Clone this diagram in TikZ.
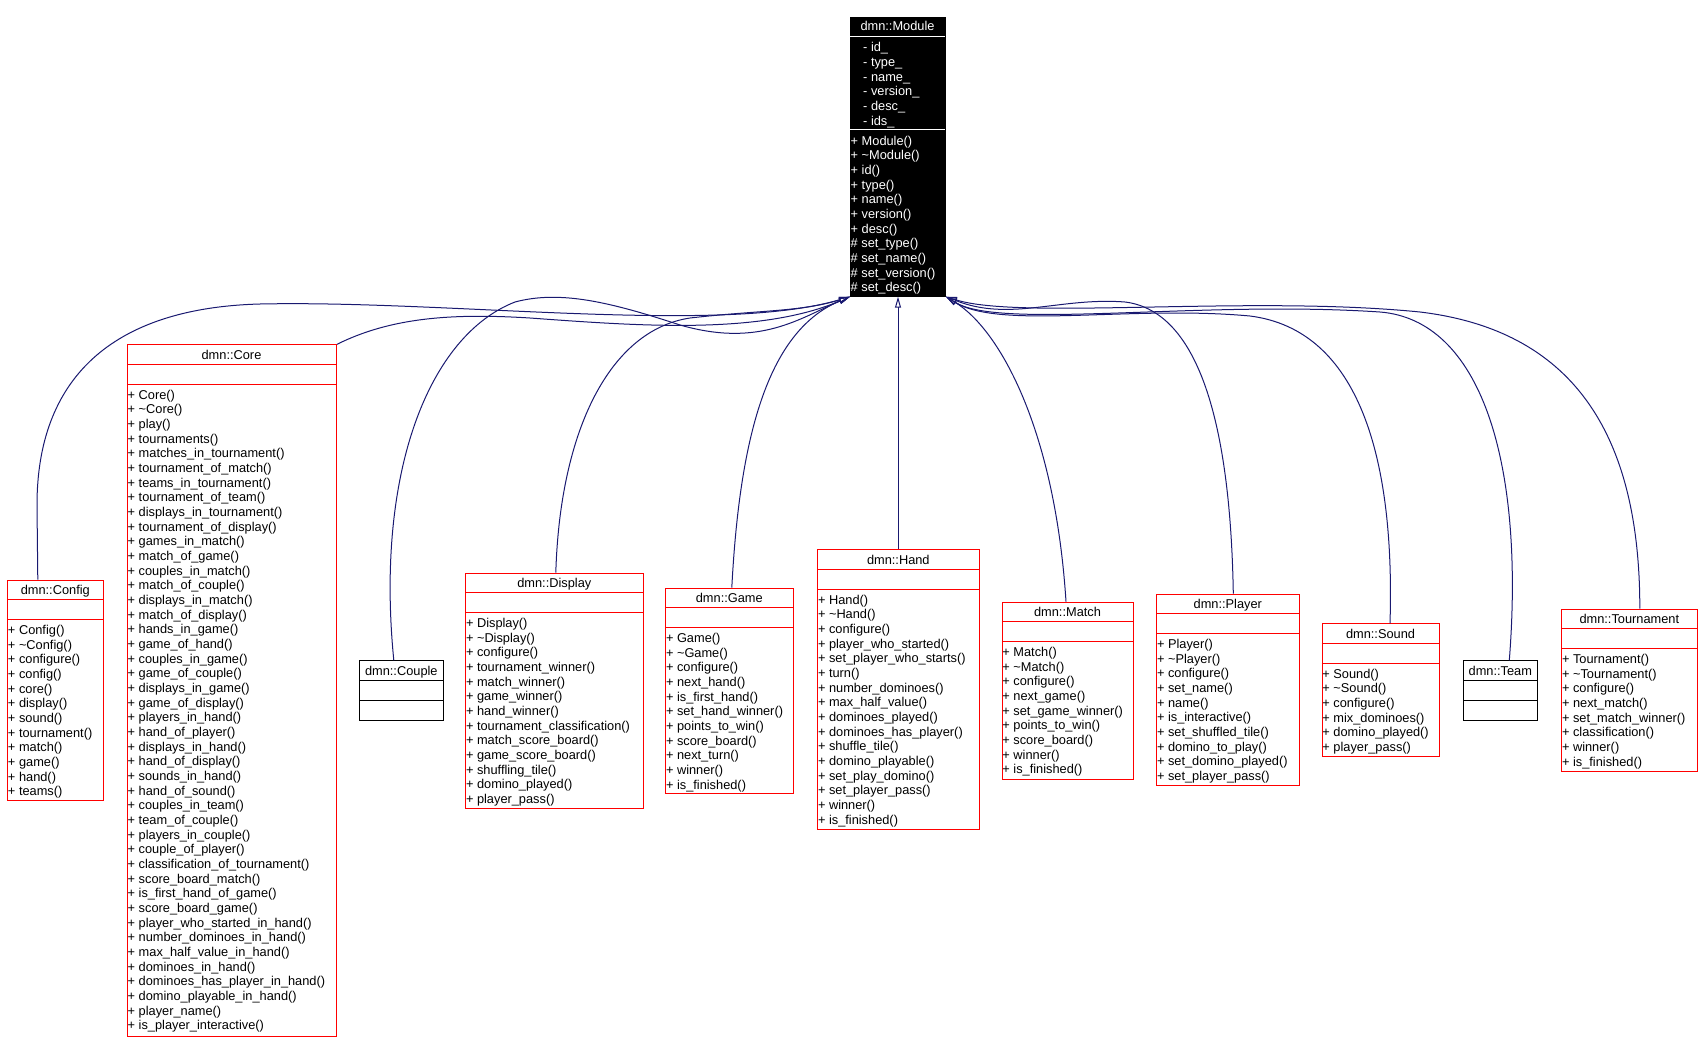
\documentclass[tikz,border=0pt]{standalone}
\usepackage{fontspec}
\setmainfont{Liberation Sans}
\usetikzlibrary{arrows.meta,calc}
\definecolor{edgeblue}{HTML}{191970}

\tikzset{
  classbox/.style={draw=red,line width=1pt,inner sep=0pt,anchor=north west},
  member/.style={anchor=base west,inner sep=0pt,font=\fontsize{12.8}{14.67}\selectfont},
  classname/.style={anchor=base,inner sep=0pt,font=\fontsize{12.8}{14.67}\selectfont},
  inherit/.style={edgeblue,line width=1pt,-{Triangle[open,length=11pt,width=6pt]}},
}

% box with title and two compartments: [colour]{name}{left}{top}{right}{bottom}{title}
\newcommand{\umlclass}[7][red]{%
  \node[classbox,draw=#1,minimum width={#5-#3},minimum height={#6-#4}] (#2) at (#3,#4) {};
  \draw[#1,line width=1pt] (#3,#4+20) -- (#5,#4+20) (#3,#4+40) -- (#5,#4+40);
  \node[classname] (#2-name) at ({(#3+#5)/2},#4+15) {#7};
}
% one line per member: [style]{prefix}{x}{first baseline}{skip}{lines}
\newcommand{\members}[6][]{%
  \foreach \m [count=\i from 0] in {#6}
    \node[member,#1] (#2-\i) at (#3,{#4+\i*#5}) {\m};
}

\begin{document}
\begin{tikzpicture}[x=1pt,y=-1pt]
  \useasboundingbox (0,0) rectangle (1702,1052);

  % base class
  \node[classbox,draw=black,fill=black,minimum width=95,minimum height=278.4] (module) at (850,17.3) {};
  \draw[white,line width=1pt] (850,36) -- (945,36) (850,129.7) -- (945,129.7);
  \node[classname,text=white] (module-name) at (897.5,30.7) {dmn::Module};
  \members[text=white]{module-attr}{863}{51.7}{14.67}{- id\_, - type\_, - name\_, - version\_, - desc\_, - ids\_}
  \members[text=white]{module-op}{850.5}{145.2}{14.67}{+ Module(), + \textasciitilde Module(), + id(), + type(), + name(), + version(), + desc(), \# set\_type(), \# set\_name(), \# set\_version(), \# set\_desc()}

  % derived classes
  \umlclass{config}{7.3}{579.7}{103.3}{800}{dmn::Config}
  \members{config-op}{7.8}{634.4}{14.67}{+ Config(), + \textasciitilde Config(), + configure(), + config(), + core(), + display(), + sound(), + tournament(), + match(), + game(), + hand(), + teams()}

  \umlclass{core}{127}{344.3}{336}{1035.7}{dmn::Core}
  \members{core-op}{127.5}{399}{14.67}{+ Core(), + \textasciitilde Core(), + play(), + tournaments(), + matches\_in\_tournament(), + tournament\_of\_match(), + teams\_in\_tournament(), + tournament\_of\_team(), + displays\_in\_tournament(), + tournament\_of\_display(), + games\_in\_match(), + match\_of\_game(), + couples\_in\_match(), + match\_of\_couple(), + displays\_in\_match(), + match\_of\_display(), + hands\_in\_game(), + game\_of\_hand(), + couples\_in\_game(), + game\_of\_couple(), + displays\_in\_game(), + game\_of\_display(), + players\_in\_hand(), + hand\_of\_player(), + displays\_in\_hand(), + hand\_of\_display(), + sounds\_in\_hand(), + hand\_of\_sound(), + couples\_in\_team(), + team\_of\_couple(), + players\_in\_couple(), + couple\_of\_player(), + classification\_of\_tournament(), + score\_board\_match(), + is\_first\_hand\_of\_game(), + score\_board\_game(), + player\_who\_started\_in\_hand(), + number\_dominoes\_in\_hand(), + max\_half\_value\_in\_hand(), + dominoes\_in\_hand(), + dominoes\_has\_player\_in\_hand(), + domino\_playable\_in\_hand(), + player\_name(), + is\_player\_interactive()}

  \umlclass[black]{couple}{359.3}{660.3}{443.3}{720.3}{dmn::Couple}

  \umlclass{display}{465.3}{572.7}{643.3}{808.3}{dmn::Display}
  \members{display-op}{465.8}{627.4}{14.67}{+ Display(), + \textasciitilde Display(), + configure(), + tournament\_winner(), + match\_winner(), + game\_winner(), + hand\_winner(), + tournament\_classification(), + match\_score\_board(), + game\_score\_board(), + shuffling\_tile(), + domino\_played(), + player\_pass()}

  \umlclass{game}{665.3}{587.7}{793.3}{793.3}{dmn::Game}
  \members{game-op}{665.8}{642.4}{14.67}{+ Game(), + \textasciitilde Game(), + configure(), + next\_hand(), + is\_first\_hand(), + set\_hand\_winner(), + points\_to\_win(), + score\_board(), + next\_turn(), + winner(), + is\_finished()}

  \umlclass{hand}{817.3}{549.3}{979.3}{829}{dmn::Hand}
  \members{hand-op}{817.8}{604}{14.67}{+ Hand(), + \textasciitilde Hand(), + configure(), + player\_who\_started(), + set\_player\_who\_starts(), + turn(), + number\_dominoes(), + max\_half\_value(), + dominoes\_played(), + dominoes\_has\_player(), + shuffle\_tile(), + domino\_playable(), + set\_play\_domino(), + set\_player\_pass(), + winner(), + is\_finished()}

  \umlclass{match}{1001.7}{601.7}{1133.3}{779.3}{dmn::Match}
  \members{match-op}{1002.2}{656.4}{14.67}{+ Match(), + \textasciitilde Match(), + configure(), + next\_game(), + set\_game\_winner(), + points\_to\_win(), + score\_board(), + winner(), + is\_finished()}

  \umlclass{player}{1156.3}{593.7}{1299.3}{785}{dmn::Player}
  \members{player-op}{1156.8}{648.4}{14.67}{+ Player(), + \textasciitilde Player(), + configure(), + set\_name(), + name(), + is\_interactive(), + set\_shuffled\_tile(), + domino\_to\_play(), + set\_domino\_played(), + set\_player\_pass()}

  \umlclass{sound}{1321.7}{623.3}{1439.3}{756}{dmn::Sound}
  \members{sound-op}{1322.2}{678}{14.67}{+ Sound(), + \textasciitilde Sound(), + configure(), + mix\_dominoes(), + domino\_played(), + player\_pass()}

  \umlclass[black]{team}{1463.3}{660.3}{1537.3}{720}{dmn::Team}

  \umlclass{tournament}{1561.3}{608.7}{1697.3}{771.3}{dmn::Tournament}
  \members{tournament-op}{1561.8}{663.4}{14.67}{+ Tournament(), + \textasciitilde Tournament(), + configure(), + next\_match(), + set\_match\_winner(), + classification(), + winner(), + is\_finished()}

  % inheritance edges, left bundle
  \draw[inherit] ([xshift=-18pt]config.north) -- (37,505) .. controls (37,380) and (110,308) .. (260,304) .. controls (450,300) and (720,335) .. (module.south west);
  \draw[inherit] (core.north east) .. controls (390,318) and (450,313) .. (530,318) .. controls (640,326) and (760,335) .. (module.south west);
  \draw[inherit] ([xshift=-8pt]couple.north) .. controls (375,470) and (430,335) .. (515,302) .. controls (560,290) and (610,302) .. (680,325) .. controls (760,348) and (800,318) .. (module.south west);
  \draw[inherit] ([xshift=1pt]display.north) .. controls (560,430) and (610,330) .. (690,318) .. controls (760,310) and (800,312) .. (module.south west);
  \draw[inherit] ([xshift=2pt]game.north) .. controls (740,430) and (770,330) .. (module.south west);
  % straight one
  \draw[inherit] ([xshift=-0.8pt]hand.north) -- ([xshift=-0.8pt]hand.north |- module.south);
  % right bundle
  \draw[inherit] ([xshift=-2pt]match.north) .. controls (1055,430) and (1000,330) .. (module.south east);
  \draw[inherit] ([xshift=5pt]player.north) .. controls (1230,400) and (1190,310) .. (1125,302) .. controls (1060,297) and (1010,322) .. (module.south east);
  \draw[inherit] ([xshift=9pt]sound.north) .. controls (1395,460) and (1360,330) .. (1250,316) .. controls (1130,305) and (1000,330) .. (module.south east);
  \draw[inherit] ([xshift=8.5pt]team.north) .. controls (1525,460) and (1480,320) .. (1380,312) .. controls (1200,300) and (1000,330) .. (module.south east);
  \draw[inherit] ([xshift=10pt]tournament.north) .. controls (1640,430) and (1570,330) .. (1420,312) .. controls (1250,295) and (1020,320) .. (module.south east);
\end{tikzpicture}
\end{document}
